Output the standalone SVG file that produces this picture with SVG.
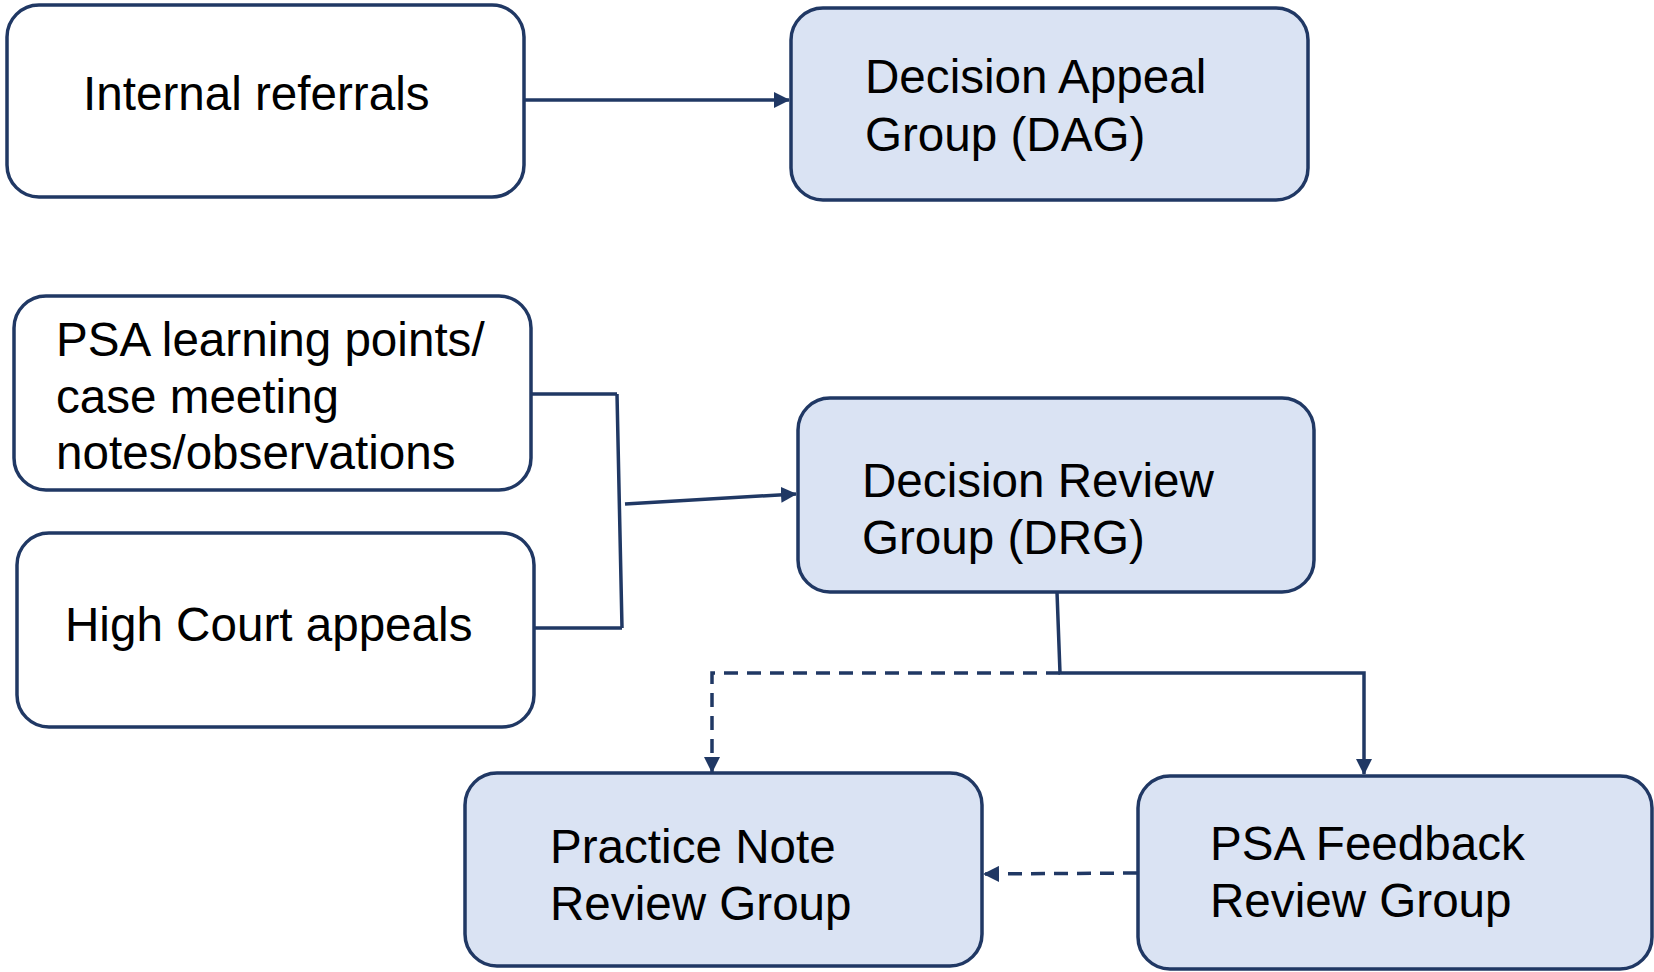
<svg xmlns="http://www.w3.org/2000/svg" width="1654" height="972" viewBox="0 0 1654 972">
<style>
.box{stroke:#203864;stroke-width:3.5}
.w{fill:#ffffff}
.b{fill:#DAE3F3}
text{font-family:"Liberation Sans",Arial,sans-serif;font-size:47.6px;fill:#000}
.c{fill:none;stroke:#203864;stroke-width:3.5}
.d{stroke-dasharray:14,9}
</style>
<defs>
<marker id="ahl" markerWidth="16" markerHeight="16" refX="15" refY="8" orient="auto" markerUnits="userSpaceOnUse" viewBox="0 0 16 16">
<path d="M0,0 L16,8 L0,16 z" fill="#203864"/>
</marker>
</defs>
<g id="connectors">
<path class="c" d="M524,100 L789,100" marker-end="url(#ahl)"/>
<path class="c" d="M531,394 L617,394 M617,394 L622,628 M534,628 L622,628"/>
<path class="c" d="M625,504 L796,494" marker-end="url(#ahl)"/>
<path class="c" d="M1057,592 L1060,673 L1364,673 L1364,774" marker-end="url(#ahl)"/>
<path class="c d" d="M1060,673 L712,673 L712,772" marker-end="url(#ahl)"/>
<path class="c d" d="M1137,873 L984,874" marker-end="url(#ahl)"/>
</g>
<g id="internal-referrals">
<rect class="box w" x="7" y="5" width="517" height="192" rx="32"/>
<text x="83" y="110">Internal referrals</text>
</g>
<g id="dag">
<rect class="box b" x="791" y="8" width="517" height="192" rx="32"/>
<text x="865" y="93">Decision Appeal</text>
<text x="865" y="151">Group (DAG)</text>
</g>
<g id="psa-learning">
<rect class="box w" x="14" y="296" width="517" height="194" rx="32"/>
<text x="56" y="356">PSA learning points/</text>
<text x="56" y="413">case meeting</text>
<text x="56" y="469">notes/observations</text>
</g>
<g id="high-court">
<rect class="box w" x="17" y="533" width="517" height="194" rx="32"/>
<text x="65" y="641">High Court appeals</text>
</g>
<g id="drg">
<rect class="box b" x="798" y="398" width="516" height="194" rx="32"/>
<text x="862" y="497">Decision Review</text>
<text x="862" y="554">Group (DRG)</text>
</g>
<g id="practice-note">
<rect class="box b" x="465" y="773" width="517" height="193" rx="32"/>
<text x="550" y="863">Practice Note</text>
<text x="550" y="920">Review Group</text>
</g>
<g id="psa-feedback">
<rect class="box b" x="1138" y="776" width="514" height="193" rx="32"/>
<text x="1210" y="860">PSA Feedback</text>
<text x="1210" y="917">Review Group</text>
</g>
</svg>
